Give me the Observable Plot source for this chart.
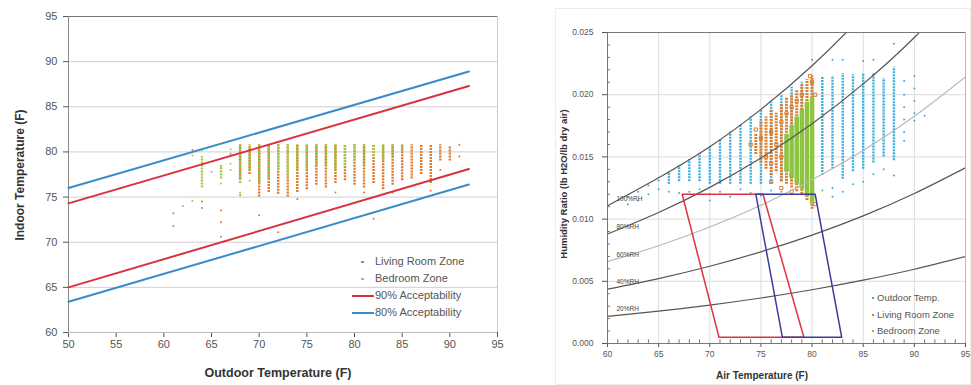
<!DOCTYPE html>
<html><head><meta charset="utf-8">
<script src="https://cdn.jsdelivr.net/npm/d3@7"></script>
<script src="https://cdn.jsdelivr.net/npm/@observablehq/plot@0.6"></script>
<style>
body{margin:0;background:#fff;font-family:"Liberation Sans",Arial,sans-serif;}
#wrap{position:relative;width:971px;height:385px;overflow:hidden;background:#fff;}
#left{position:absolute;left:0;top:0;width:520px;height:385px;}
#right{position:absolute;left:540px;top:0;width:431px;height:385px;}
.lbl{position:absolute;font-weight:bold;color:#333;white-space:nowrap;transform:translate(-50%,-50%);}
.rot{transform:translate(-50%,-50%) rotate(-90deg);}
.leg{position:absolute;color:#555;white-space:nowrap;line-height:1;}
.sw{position:absolute;}
</style></head><body>
<div id="wrap">
  <div style="position:absolute;left:555px;top:8px;width:414px;height:375px;border:1px solid #ececec;"></div>
  <div id="left"></div>
  <div id="right"></div>
  <div class="lbl rot" style="left:20px;top:175px;font-size:12px;">Indoor Temperature (F)</div>
  <div class="lbl" style="left:278px;top:373px;font-size:12.5px;">Outdoor Temperature (F)</div>
  <div class="lbl rot" style="left:563px;top:184px;font-size:9.5px;">Humidity Ratio (lb H2O/lb dry air)</div>
  <div class="lbl" style="left:762px;top:375px;font-size:10px;">Air Temperature (F)</div>
  <!-- left legend -->
  <div class="sw" style="left:361px;top:261px;width:3px;height:2px;background:#e0782c;"></div>
  <div class="leg" style="left:375px;top:256px;font-size:11px;">Living Room Zone</div>
  <div class="sw" style="left:361px;top:278px;width:3px;height:2px;background:#9cc94a;"></div>
  <div class="leg" style="left:375px;top:273px;font-size:11px;">Bedroom Zone</div>
  <div class="sw" style="left:352px;top:295px;width:22px;height:2px;background:#d8333d;"></div>
  <div class="leg" style="left:375px;top:290px;font-size:11px;">90% Acceptability</div>
  <div class="sw" style="left:352px;top:312px;width:22px;height:2px;background:#3a8bc8;"></div>
  <div class="leg" style="left:375px;top:307px;font-size:11px;">80% Acceptability</div>
  <!-- right legend -->
  <div class="sw" style="left:872px;top:297px;width:2px;height:2px;background:#38aee0;"></div>
  <div class="leg" style="left:877px;top:293px;font-size:9.5px;">Outdoor Temp.</div>
  <div class="sw" style="left:872px;top:314px;width:2px;height:2px;background:#e07b28;"></div>
  <div class="leg" style="left:877px;top:310px;font-size:9.5px;">Living Room Zone</div>
  <div class="sw" style="left:872px;top:330px;width:2px;height:2px;background:#8dc540;"></div>
  <div class="leg" style="left:877px;top:326px;font-size:9.5px;">Bedroom Zone</div>
</div>
<script>
// ---------------- LEFT CHART DATA ----------------
const outdoorTicks = [50, 55, 60, 65, 70, 75, 80, 85, 90, 95];
const indoorTicks = [60, 65, 70, 75, 80, 85, 90, 95];
const indoorGrid = [65, 70, 75, 80, 85, 90];

// Acceptability limit lines (endpoints read at outdoor 50 F and 92 F)
const lineOutdoor = [50, 92];
const upper80 = [76.0, 88.9];
const upper90 = [74.3, 87.3];
const lower90 = [65.0, 78.1];
const lower80 = [63.4, 76.4];

// Dense columns of hourly points: [outdoor T, low indoor T, high indoor T]
const livingCols = [
  [68, 77.0, 80.8], [69, 77.5, 80.6], [70, 75.0, 80.8], [71, 75.5, 80.8], [72, 75.3, 80.8],
  [73, 75.0, 80.8], [74, 75.5, 80.8], [75, 75.8, 80.8], [76, 76.3, 80.8], [77, 76.0, 80.8],
  [78, 76.5, 80.8], [79, 76.8, 80.8], [80, 76.3, 80.8], [81, 76.0, 80.8], [82, 76.5, 80.8],
  [83, 75.8, 80.8], [84, 76.3, 80.8], [85, 76.8, 80.8], [86, 77.0, 80.8], [87, 77.5, 80.8],
  [88, 76.5, 80.8], [89, 79.0, 80.8], [90, 79.0, 80.6]
];
const bedroomCols = [
  [64, 76.0, 79.5], [66, 77.0, 78.5], [68, 76.5, 80.8], [69, 78.0, 80.8], [70, 76.5, 80.8],
  [71, 77.0, 80.8], [72, 78.0, 80.8], [73, 77.0, 80.8], [74, 78.0, 80.8], [75, 78.0, 80.8],
  [76, 78.5, 80.8], [77, 78.5, 80.8], [78, 78.0, 80.8], [79, 78.5, 80.8], [80, 79.0, 80.8],
  [81, 78.5, 80.8], [82, 79.5, 80.8], [83, 79.0, 80.8], [84, 79.5, 80.8], [85, 80.0, 80.8]
];
// Isolated points: [outdoor T, indoor T]
const livingDots = [
  [61, 73.2], [61, 71.8], [63, 80.2], [64, 74.5], [64, 73.8], [66, 73.5], [66, 72.2], [66, 70.6],
  [67, 79.8], [68, 75.2], [70, 73.0], [72, 71.1], [74, 74.8], [78, 75.5], [81, 75.5], [82, 72.6],
  [84, 75.5], [85, 77.0], [88, 75.7], [89, 78.0], [91, 80.8], [91, 79.5]
];
const bedroomDots = [
  [62, 74.0], [63, 74.6], [63, 79.6], [64, 80.2], [65, 77.8], [66, 78.3], [66, 76.5],
  [67, 78.7], [67, 78.0], [67, 80.3], [68, 75.5], [69, 76.8]
];

// ---------------- RIGHT CHART DATA ----------------
const airTicks = [60, 65, 70, 75, 80, 85, 90, 95];
const humTicks = [0, 0.005, 0.010, 0.015, 0.020, 0.025];
const airGrid = [65, 70, 75, 80, 85, 90];
const humGrid = [0.005, 0.010, 0.015, 0.020];
const airMinor = [61,62,63,64,66,67,68,69,71,72,73,74,76,77,78,79,81,82,83,84,86,87,88,89,91,92,93,94];
const humMinor = [0.001,0.002,0.003,0.004,0.006,0.007,0.008,0.009,0.011,0.012,0.013,0.014,0.016,0.017,0.018,0.019,0.021,0.022,0.023,0.024];

// Relative humidity curves (humidity ratio at each air temperature)
const rhTemps = [60, 65, 70, 75, 80, 85, 90, 95];
const rh100 = [0.01108, 0.01333, 0.01582, 0.01882, 0.02233, 0.02642, 0.03118, 0.03673];
const rh80  = [0.00880, 0.01053, 0.01255, 0.01491, 0.01766, 0.02087, 0.02460, 0.02892];
const rh60  = [0.00658, 0.00786, 0.00936, 0.01111, 0.01316, 0.01552, 0.01827, 0.02144];
const rh40  = [0.00437, 0.00522, 0.00621, 0.00737, 0.00871, 0.01026, 0.01206, 0.01413];
const rh20  = [0.00218, 0.00260, 0.00309, 0.00366, 0.00432, 0.00509, 0.00597, 0.00699];
const rhNames = ["100%RH", "80%RH", "60%RH", "40%RH", "20%RH"];

// Comfort zone outlines: [air T, humidity ratio]
const zoneRed  = [[67.3, 0.012], [75.2, 0.012], [79.2, 0.0005], [70.9, 0.0005], [67.3, 0.012]];
const zoneBlue = [[74.5, 0.012], [80.3, 0.012], [82.9, 0.0005], [77.1, 0.0005], [74.5, 0.012]];

// Outdoor hourly points: dense columns [T, low W, high W] and isolated points [T, W]
const outdoorCols = [
  [66, 0.0128, 0.0138], [67, 0.0130, 0.0143], [68, 0.0130, 0.0148], [69, 0.0130, 0.0153],
  [70, 0.0128, 0.0158], [71, 0.0128, 0.0164], [72, 0.0128, 0.0170], [73, 0.0128, 0.0176],
  [74, 0.0128, 0.0182], [75, 0.0128, 0.0188], [76, 0.0128, 0.0194], [77, 0.0130, 0.0200],
  [78, 0.0130, 0.0206], [79, 0.0132, 0.0210], [80, 0.0132, 0.0212], [81, 0.0135, 0.0214],
  [82, 0.0140, 0.0215], [83, 0.0132, 0.0217], [84, 0.0138, 0.0216], [85, 0.0140, 0.0217],
  [86, 0.0145, 0.0217], [87, 0.0150, 0.0213], [88, 0.0147, 0.0222]
];
const outdoorDots = [
  [62, 0.0118], [62, 0.0112], [63, 0.0122], [63, 0.0115], [64, 0.0127], [64, 0.0120],
  [65, 0.0131], [65, 0.0124], [66, 0.0122], [67, 0.0121], [68, 0.0122], [69, 0.0124],
  [70, 0.0120], [70, 0.0115], [71, 0.0122], [72, 0.0118], [73, 0.0124], [74, 0.0121],
  [75, 0.0119], [76, 0.0123], [77, 0.0122], [78, 0.0120], [79, 0.0124], [80, 0.0126],
  [81, 0.0123], [82, 0.0125], [82, 0.0118], [83, 0.0122], [84, 0.0128], [85, 0.0130],
  [86, 0.0136], [87, 0.0140], [88, 0.0241], [88, 0.0135], [89, 0.0211], [89, 0.0200],
  [89, 0.0190], [89, 0.0180], [89, 0.0170], [89, 0.0163], [90, 0.0215], [90, 0.0205],
  [90, 0.0195], [90, 0.0185], [90, 0.0179], [91, 0.0183], [85, 0.0227], [82, 0.0228],
  [83, 0.0228], [86, 0.0228], [80, 0.0228]
];
const livingCols2 = [
  [74.5, 0.0152, 0.0168], [75, 0.0145, 0.0178], [75.5, 0.0140, 0.0182], [76, 0.0135, 0.0188],
  [76.5, 0.0138, 0.0185], [77, 0.0130, 0.0192], [77.5, 0.0128, 0.0198], [78, 0.0125, 0.0200],
  [78.5, 0.0122, 0.0204], [79, 0.0120, 0.0208], [79.5, 0.0115, 0.0212], [80, 0.0108, 0.0215]
];
const livingDots2 = [
  [74, 0.0160], [74.5, 0.0172], [75, 0.0165], [75.5, 0.0150], [76, 0.0170], [76, 0.0145],
  [76.5, 0.0160], [77, 0.0178], [77, 0.0150], [77.5, 0.0185], [77.5, 0.0140], [78, 0.0190],
  [78, 0.0135], [78.5, 0.0195], [79, 0.0128], [79, 0.0200], [79.5, 0.0125], [80, 0.0210],
  [80, 0.0118], [80.3, 0.0112], [80.3, 0.0200], [79.8, 0.0215], [78.5, 0.0175], [76, 0.0130],
  [77, 0.0125], [78, 0.0122]
];
const bedroomCols2 = [
  [77.5, 0.0138, 0.0168], [78, 0.0133, 0.0175], [78.5, 0.0128, 0.0182],
  [79, 0.0124, 0.0188], [79.5, 0.0118, 0.0194], [80, 0.0112, 0.0198]
];

// ---------------- COLORS ----------------
const livingColor = "#e0782c", bedroomColor = "#9cc94a";
const red90 = "#d8333d", blue80 = "#3a8bc8";
const outdoorColor = "#38aee0", livingColor2 = "#e07b28", bedroomColor2 = "#8dc540";
const font = "'Liberation Sans', Arial, sans-serif";

// ---------------- LEFT PLOT ----------------
const accRows = [];
[["u80", upper80], ["u90", upper90], ["l90", lower90], ["l80", lower80]].forEach(([k, arr]) =>
  arr.forEach((v, i) => accRows.push({k, x: lineOutdoor[i], y: v})));

const left = Plot.plot({
  width: 520, height: 385,
  marginLeft: 68, marginRight: 23, marginTop: 16, marginBottom: 53,
  style: {background: "transparent", fontFamily: font, fontSize: "11px", color: "#555"},
  x: {domain: [50, 95], ticks: outdoorTicks, tickSize: 5, tickPadding: 3, label: null},
  y: {domain: [60, 95], ticks: indoorTicks, tickSize: 5, tickPadding: 6, label: null},
  marks: [
    Plot.ruleY(indoorGrid, {stroke: "#cfcfcf"}),
    Plot.ruleY([60], {stroke: "#bbb"}),
    Plot.ruleY([95], {stroke: "#777"}),
    Plot.ruleX([95], {stroke: "#ccc"}),
    Plot.ruleX([50], {stroke: "#888"}),
    Plot.ruleX(livingCols, {x: d => d[0], y1: d => d[1], y2: d => d[2], stroke: livingColor, strokeWidth: 2.4, strokeDasharray: "2,1"}),
    Plot.ruleX(bedroomCols, {x: d => d[0], y1: d => d[1], y2: d => d[2], stroke: bedroomColor, strokeWidth: 2.4, strokeDasharray: "2,1"}),
    Plot.dot(livingDots, {x: d => d[0], y: d => d[1], r: 1, fill: livingColor, stroke: null}),
    Plot.dot(bedroomDots, {x: d => d[0], y: d => d[1], r: 1, fill: bedroomColor, stroke: null}),
    Plot.line(accRows, {x: "x", y: "y", z: "k", stroke: d => d.k.endsWith("80") ? blue80 : red90, strokeWidth: 2})
  ]
});
document.getElementById("left").appendChild(left);

// ---------------- RIGHT PLOT ----------------
const rhRows = [];
[rh100, rh80, rh60, rh40, rh20].forEach((arr, j) =>
  arr.forEach((v, i) => rhRows.push({name: rhNames[j], x: rhTemps[i], y: v})));
const zoneRows = [
  ...zoneRed.map(d => ({zone: "red", x: d[0], y: d[1]})),
  ...zoneBlue.map(d => ({zone: "blue", x: d[0], y: d[1]}))
];

const right = Plot.plot({
  width: 431, height: 385,
  marginLeft: 67, marginRight: 6, marginTop: 32, marginBottom: 42,
  style: {background: "transparent", fontFamily: font, fontSize: "8.5px", color: "#555"},
  x: {domain: [60, 95], ticks: airTicks, tickSize: 4, tickPadding: 3, label: null},
  y: {domain: [0, 0.025], ticks: humTicks, tickFormat: d3.format(".3f"), tickSize: 5, tickPadding: 9, label: null},
  marks: [
    Plot.ruleX(airGrid, {stroke: "#dcdcdc"}),
    Plot.ruleY(humGrid, {stroke: "#dcdcdc"}),
    Plot.ruleX(airMinor, {x: d => d, y1: 0, y2: 0.0003, stroke: "#777"}),
    Plot.ruleY(humMinor, {y: d => d, x1: 60, x2: 60.3, stroke: "#777"}),
    Plot.ruleX(outdoorCols, {x: d => d[0], y1: d => d[1], y2: d => d[2], stroke: outdoorColor, strokeWidth: 2.4, strokeDasharray: "2,1"}),
    Plot.dot(outdoorDots, {x: d => d[0], y: d => d[1], r: 1, fill: outdoorColor, stroke: null}),
    Plot.ruleX(livingCols2, {x: d => d[0], y1: d => d[1], y2: d => d[2], stroke: livingColor2, strokeWidth: 3, strokeDasharray: "2,1"}),
    Plot.dot(livingDots2, {x: d => d[0], y: d => d[1], r: 1.8, symbol: "square", fill: "none", stroke: livingColor2, strokeWidth: 1}),
    Plot.ruleX(bedroomCols2, {x: d => d[0], y1: d => d[1], y2: d => d[2], stroke: bedroomColor2, strokeWidth: 4.5}),
    Plot.line(rhRows, {x: "x", y: "y", z: "name", stroke: d => d.name === "60%RH" ? "#b8b8b8" : "#555", strokeWidth: 1.2, curve: "natural", clip: true}),
    Plot.text(rhRows, Plot.selectFirst({x: "x", y: "y", z: "name", text: "name", textAnchor: "start", dx: 9, dy: -7, fontSize: 6.5, fill: "#444"})),
    Plot.line(zoneRows, {x: "x", y: "y", z: "zone", stroke: d => d.zone === "red" ? "#e0323c" : "#3b3b9e", strokeWidth: 1.5}),
    Plot.ruleY([0.025], {stroke: "#777"}),
    Plot.ruleY([0], {stroke: "#777"}),
    Plot.ruleX([60], {stroke: "#777"}),
    Plot.ruleX([95], {stroke: "#bbb"})
  ]
});
document.getElementById("right").appendChild(right);
</script>
</body></html>
